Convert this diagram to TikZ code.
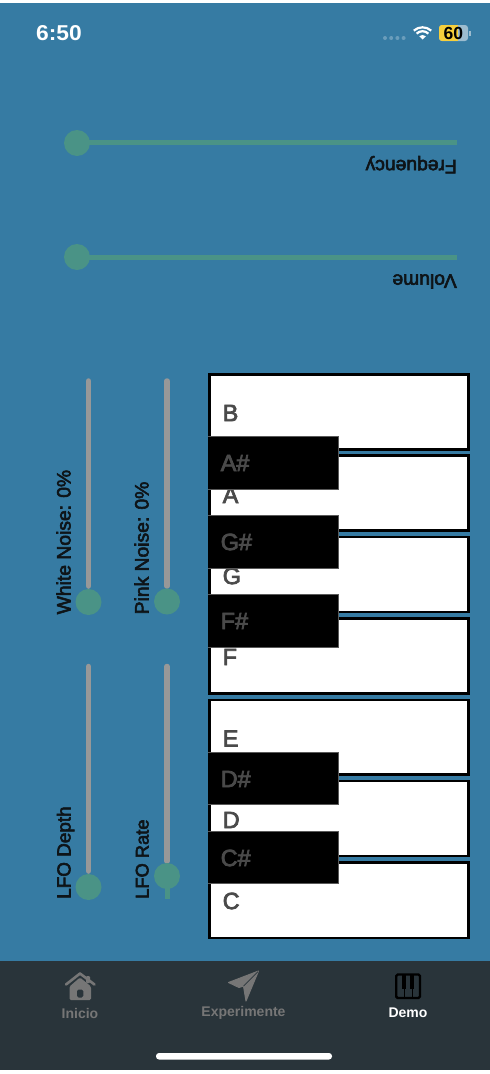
\documentclass[tikz,border=0pt]{standalone}
\usepackage{fontspec}
\setmainfont{Liberation Sans}
\newfontfamily\medfont[FakeBold=3]{Liberation Sans}
\newfontfamily\keyfont[FakeBold=3.2]{Liberation Sans}
\definecolor{bgblue}{HTML}{367BA3}
\definecolor{bardark}{HTML}{29343A}
\definecolor{thumbgreen}{HTML}{4A9386}
\definecolor{trackgrey}{HTML}{989898}
\definecolor{keytext}{HTML}{4A4A4A}
\definecolor{tabgrey}{HTML}{767676}
\definecolor{labelblack}{HTML}{0E1418}
\definecolor{battyellow}{HTML}{F6CF3C}
\definecolor{battgrey}{HTML}{9CBCCF}
\definecolor{dotblue}{HTML}{6A9DBB}
\tikzset{
  x=1pt,y=-1pt,
  whitekey/.style={draw=black,fill=white,line width=2.8pt},
  blackkey/.style={fill=black},
  blackedge/.style={draw=black!65,line width=0.4pt},
  keylabel/.style={inner sep=0pt,anchor=west,text=keytext,font=\keyfont\fontsize{23.5}{23.5}\selectfont},
  thumb/.style={circle,fill=thumbgreen,minimum size=26pt,inner sep=0pt},
  greytrack/.style={draw=trackgrey,line width=5.5pt,line cap=round},
  greentrack/.style={draw=thumbgreen,line width=5pt},
  sliderlabel/.style={inner sep=0pt,anchor=base west,text=labelblack,font=\medfont\fontsize{19.3}{19.3}\selectfont},
  tablabel/.style={inner sep=0pt,font=\fontsize{14}{14}\selectfont\bfseries},
}
\begin{document}
\begin{tikzpicture}
\useasboundingbox (0,0) rectangle (490,1074);
\fill[white] (0,0) rectangle (490,1074);
\fill[bgblue] (0,3) rectangle (490,961);
\fill[bardark] (0,961) rectangle (490,1069.5);

% status bar
\node[inner sep=0pt,anchor=west,text=white,xscale=1.06,font=\fontsize{21.5}{21.5}\selectfont\bfseries] (clock) at (36,33) {6:50};
\foreach \i in {0,1,2,3}{\fill[dotblue] (385+\i*6.2,38) circle (2pt);}
\fill[white] (422.5,39.5) -- (419.2,36.2) .. controls (421,34.6) and (424,34.6) .. (425.8,36.2) -- cycle;
\draw[white,line width=2.2pt] (416.6,33.6) .. controls (420,30.4) and (425,30.4) .. (428.4,33.6);
\draw[white,line width=2.2pt] (413.8,30.6) .. controls (419,26.2) and (426,26.2) .. (431.2,30.6);
\fill[battgrey,rounded corners=3pt] (439,25) rectangle (468,41);
\begin{scope}
\clip[rounded corners=3pt] (439,25) rectangle (468,41);
\fill[battyellow] (439,25) rectangle (458,41);
\end{scope}
\fill[battgrey] (469,30.5) rectangle (470.5,35.5);
\node[inner sep=0pt,text=black,font=\fontsize{17.5}{17.5}\selectfont\bfseries] (batt) at (453.3,33) {60};

% horizontal sliders
\draw[greentrack] (77,142.5) -- (457,142.5);
\node[thumb] (freqthumb) at (77,143) {};
\node[sliderlabel,rotate=180] (freq) at (457,160) {Frequency};
\draw[greentrack] (77,257) -- (457,257);
\node[thumb] (volthumb) at (77,257) {};
\node[sliderlabel,rotate=180] (vol) at (457,274.5) {Volume};

% vertical sliders
\draw[greytrack] (88.5,381) -- (88.5,586);
\node[thumb] (whitethumb) at (88.5,602) {};
\node[sliderlabel,rotate=90] (white) at (70.5,614.5) {White Noise: 0\%};
\draw[greytrack] (167,381) -- (167,586);
\node[thumb] (pinkthumb) at (167,601.5) {};
\node[sliderlabel,rotate=90] (pink) at (148.5,614.5) {Pink Noise: 0\%};
\draw[greytrack] (88.5,666.5) -- (88.5,871);
\node[thumb] (depththumb) at (88.5,887) {};
\node[sliderlabel,rotate=90,font=\medfont\fontsize{18.9}{18.9}\selectfont] (depth) at (70.5,899) {LFO Depth};
\draw[greytrack] (167,666.5) -- (167,861);
\draw[draw=thumbgreen,line width=5pt] (167,876) -- (167,899);
\node[thumb] (ratethumb) at (167,876) {};
\node[sliderlabel,rotate=90,font=\medfont\fontsize{18.3}{18.3}\selectfont] (rate) at (148.5,899) {LFO Rate};

% white keys
\foreach \a/\b in {374.4/449.2,455.8/530.8,537/612,618.2/693.3,700/774.8,781/856,862.8/938}{
  \draw[whitekey] (209.4,\a) rectangle (468.6,\b);
}
\node[keylabel] (lb) at (222.5,413) {B};
\node[keylabel] (la) at (222.5,495) {A};
\node[keylabel] (lg) at (222.5,576) {G};
\node[keylabel] (lf) at (222.5,657) {F};
\node[keylabel] (le) at (222.5,738.5) {E};
\node[keylabel] (ld) at (222.5,820) {D};
\node[keylabel] (lc) at (222.5,901) {C};

% black keys
\foreach \a/\b in {436.5/489,515.5/568,594.3/646.8,752.3/804.3,831/883}{
  \fill[blackkey] (208,\a) rectangle (338.5,\b);
  \draw[blackedge] (208,\a) -- (338.5,\a) -- (338.5,\b) -- (208,\b);
}
\node[keylabel] (las) at (220.5,463) {A\#};
\node[keylabel] (lgs) at (220.5,542) {G\#};
\node[keylabel] (lfs) at (220.5,621) {F\#};
\node[keylabel] (lds) at (220.5,779) {D\#};
\node[keylabel] (lcs) at (220.5,858) {C\#};

% tab bar
\fill[tabgrey,rounded corners=1pt] (86,976) rectangle (90,983);
\draw[tabgrey,line width=2.6pt,line cap=round,line join=round] (66,984.5) -- (80,973.5) -- (94.5,984.5);
\fill[tabgrey,rounded corners=1.5pt,even odd rule] (69.5,986.5) -- (80,977.5) -- (91,986.5) -- (91,1000) -- (69.5,1000) -- cycle (76.8,989.5) rectangle (83.3,997.5);
\fill[tabgrey,draw=tabgrey,line width=1pt,line join=round] (228.5,982.5) -- (258.5,971) -- (246,1001) -- (243.5,986) -- (239,987.5) -- cycle;
\draw[bardark,line width=0.7pt] (243.5,986) -- (258,971.5);
\node[tablabel,text=tabgrey] (inicio) at (80,1013) {Inicio};
\node[tablabel,text=tabgrey] (exper) at (243.5,1013) {Experimente};
\node[tablabel,text=white] (demo) at (408,1013) {Demo};
\draw[black,line width=2.4pt,rounded corners=1.5pt] (396.2,974.5) rectangle (420,998);
\fill[black] (402,974) rectangle (406.2,989);
\fill[black] (410.2,974) rectangle (414.4,989);
\draw[black,line width=1pt] (404.1,989) -- (404.1,998) (412.3,989) -- (412.3,998);
\fill[white,rounded corners=3pt] (156,1053) rectangle (332,1059.5);
\end{tikzpicture}
\end{document}
